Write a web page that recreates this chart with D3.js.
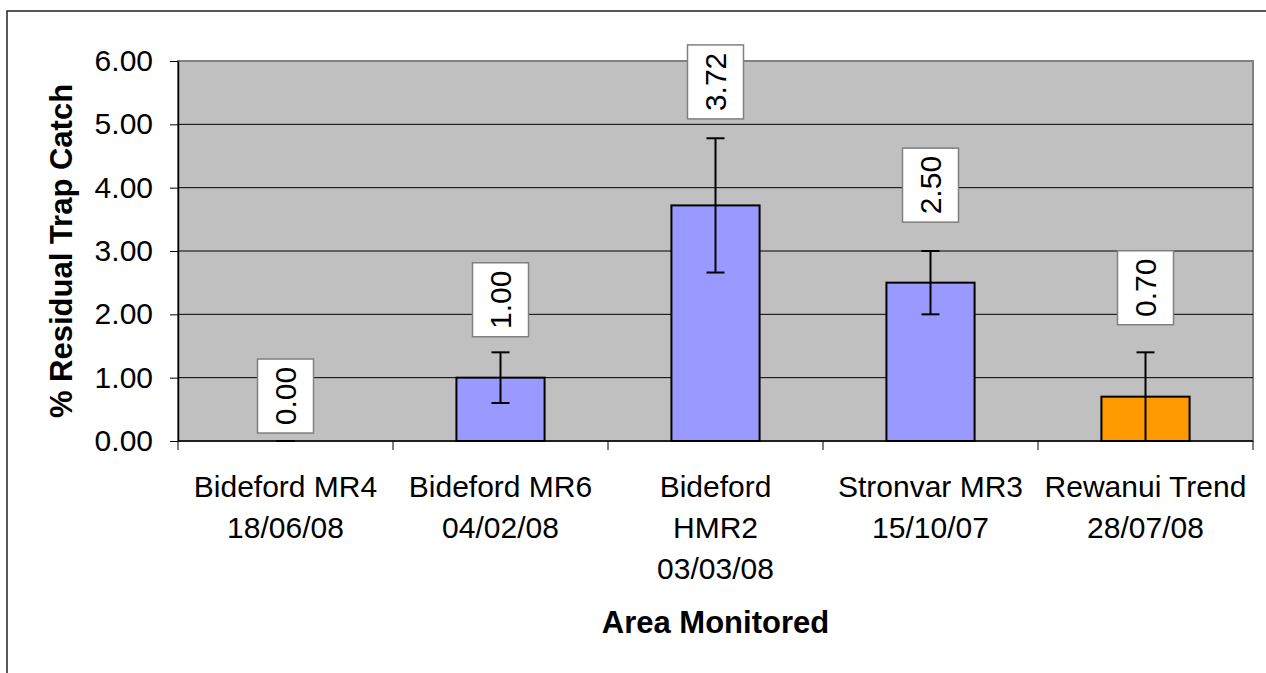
<!DOCTYPE html>
<html>
<head>
<meta charset="utf-8">
<script src="https://cdn.jsdelivr.net/npm/d3@7"></script>
<style>
  body { margin: 0; background: #fff; }
  text { font-family: "Liberation Sans", Arial, sans-serif; }
</style>
</head>
<body>
<div id="graph"></div>
<script>
var categories = [
  ['Bideford MR4', '18/06/08'],
  ['Bideford MR6', '04/02/08'],
  ['Bideford', 'HMR2', '03/03/08'],
  ['Stronvar MR3', '15/10/07'],
  ['Rewanui Trend', '28/07/08'],
]
var values = [0.0, 1.0, 3.72, 2.5, 0.7]
var errors = [0.0, 0.4, 1.06, 0.5, 0.7]
// where the value boxes sit, in axis units
var labelAt = [0.71, 2.23, 5.67, 4.04, 2.42]
var yTicks = [0, 1, 2, 3, 4, 5, 6]
var barColors = ['#9999FF', '#9999FF', '#9999FF', '#9999FF', '#FF9900']

var W = 1266, H = 673
var pLeft = 178, pRight = 1253, pTop = 61, pBottom = 441

var svg = d3.select('#graph').append('svg')
  .attr('width', W).attr('height', H)

// outer chart frame, runs off the right and bottom
svg.append('rect')
  .attr('x', 7).attr('y', 11)
  .attr('width', W + 10).attr('height', H + 10)
  .attr('fill', '#fff').attr('stroke', '#222').attr('stroke-width', 1.5)

var x = d3.scaleBand()
  .domain(d3.range(categories.length))
  .range([pLeft, pRight])
var y = d3.scaleLinear().domain([0, 6]).range([pBottom, pTop])

// plot area
svg.append('rect')
  .attr('x', pLeft).attr('y', pTop)
  .attr('width', pRight - pLeft).attr('height', pBottom - pTop)
  .attr('fill', '#C0C0C0').attr('stroke', '#808080').attr('stroke-width', 2)

// gridlines
svg.append('g').selectAll('line')
  .data(yTicks.filter(d => d > 0 && d < 6))
  .join('line')
  .attr('x1', pLeft).attr('x2', pRight)
  .attr('y1', d => y(d)).attr('y2', d => y(d))
  .attr('stroke', '#000').attr('stroke-width', 1)

// y axis
var yAxis = svg.append('g')
  .attr('transform', 'translate(' + pLeft + ',0)')
  .call(d3.axisLeft(y).tickValues(yTicks).tickFormat(d3.format('.2f'))
    .tickSizeInner(8).tickSizeOuter(0).tickPadding(17))
yAxis.select('.domain').attr('stroke', '#000').attr('stroke-width', 1.5)
yAxis.selectAll('.tick line').attr('stroke', '#000')
yAxis.selectAll('.tick text')
  .attr('font-size', 30).attr('fill', '#000')
  .style('font-family', '"Liberation Sans", Arial, sans-serif')

// x axis
var xAxis = svg.append('g')
  .attr('transform', 'translate(0,' + pBottom + ')')
xAxis.append('line')
  .attr('x1', pLeft).attr('x2', pRight)
  .attr('stroke', '#000').attr('stroke-width', 1.5)
xAxis.selectAll('.xt')
  .data(d3.range(categories.length + 1))
  .join('line')
  .attr('class', 'xt')
  .attr('x1', d => d < categories.length ? x(d) : pRight)
  .attr('x2', d => d < categories.length ? x(d) : pRight)
  .attr('y1', 0).attr('y2', 9)
  .attr('stroke', '#000')

xAxis.selectAll('.xl')
  .data(categories)
  .join('text')
  .attr('class', 'xl')
  .attr('text-anchor', 'middle')
  .attr('font-size', 30)
  .attr('fill', '#000')
  .each(function(lines, i) {
    var t = d3.select(this)
    lines.forEach((s, j) => {
      t.append('tspan')
        .attr('x', x(i) + x.bandwidth() / 2)
        .attr('y', 56 + j * 41)
        .text(s)
    })
  })

// bars (Excel skips zero-height bars)
var bw = x.bandwidth() * 0.41
var barData = values.map((v, i) => ({ v: v, i: i })).filter(d => d.v > 0)
svg.append('g').selectAll('rect')
  .data(barData)
  .join('rect')
  .attr('x', d => x(d.i) + (x.bandwidth() - bw) / 2)
  .attr('y', d => y(d.v))
  .attr('width', bw)
  .attr('height', d => y(0) - y(d.v))
  .attr('fill', d => barColors[d.i])
  .attr('stroke', '#000').attr('stroke-width', 2)

// error bars
var eb = svg.append('g')
values.forEach((v, i) => {
  var cx = x(i) + x.bandwidth() / 2
  var hi = y(v + errors[i]), lo = y(Math.max(0, v - errors[i]))
  eb.append('line').attr('x1', cx).attr('x2', cx).attr('y1', hi).attr('y2', lo)
    .attr('stroke', '#000').attr('stroke-width', 2)
  eb.append('line').attr('x1', cx - 9).attr('x2', cx + 9).attr('y1', hi).attr('y2', hi)
    .attr('stroke', '#000').attr('stroke-width', 2)
  if (v - errors[i] > 0 || errors[i] === 0) {
    eb.append('line').attr('x1', cx - 9).attr('x2', cx + 9).attr('y1', lo).attr('y2', lo)
      .attr('stroke', '#000').attr('stroke-width', 2)
  }
})

// value boxes
var lb = svg.append('g')
values.forEach((v, i) => {
  var cx = x(i) + x.bandwidth() / 2
  var cy = y(labelAt[i])
  var g = lb.append('g').attr('transform', 'translate(' + cx + ',' + cy + ')')
  g.append('rect')
    .attr('x', -28).attr('y', -37).attr('width', 56).attr('height', 74)
    .attr('fill', '#fff').attr('stroke', '#808080').attr('stroke-width', 1.5)
  g.append('text')
    .attr('transform', 'rotate(-90)')
    .attr('text-anchor', 'middle')
    .attr('dy', '0.36em')
    .attr('font-size', 30)
    .attr('fill', '#000')
    .text(d3.format('.2f')(v))
})

// axis titles
svg.append('text')
  .attr('transform', 'translate(72,' + ((pTop + pBottom) / 2) + ') rotate(-90)')
  .attr('text-anchor', 'middle')
  .attr('font-size', 31).attr('font-weight', 'bold')
  .text('% Residual Trap Catch')

svg.append('text')
  .attr('x', (pLeft + pRight) / 2).attr('y', 633)
  .attr('text-anchor', 'middle')
  .attr('font-size', 31).attr('font-weight', 'bold')
  .text('Area Monitored')
</script>
</body>
</html>
